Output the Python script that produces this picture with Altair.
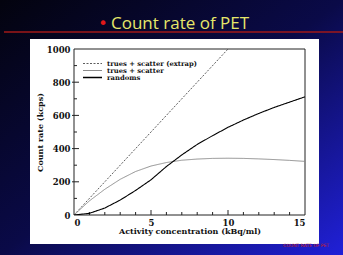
import altair as alt
import pandas as pd

# ---- data ----
series_names = ["trues + scatter (extrap)", "trues + scatter", "randoms"]
series_colors = ["#333333", "#8a8a8a", "#000000"]
series_dash = [[2, 1.5], [1, 0], [1, 0]]
series_width = [0.8, 1.1, 1.4]
x_extrap = [0, 10]
v_extrap = [0, 1000]
x_curve = list(range(0, 16))
v_trues = [0, 85, 155, 215, 262, 295, 316, 330, 337, 341, 342, 341, 338, 334, 329, 323]
v_randoms = [0, 10, 42, 90, 148, 212, 292, 362, 425, 478, 528, 572, 612, 648, 680, 712]
x_tick_labels = [0, 5, 10, 15]
y_tick_labels = [0, 200, 400, 600, 800, 1000]
x_minor = [1, 2, 3, 4, 6, 7, 8, 9, 11, 12, 13, 14]
x_major = [5, 10]
y_minor = [100, 300, 500, 700, 900]
y_major = [200, 400, 600, 800]
slide_title = "Count rate of PET"
x_title = "Activity concentration (kBq/ml)"
y_title = "Count rate (kcps)"
watermark = "COUNT RATE OF PET"

rows = []
for xx, vv in zip(x_extrap, v_extrap):
    rows.append({"series": series_names[0], "x": xx, "v": vv})
for xx, vv in zip(x_curve, v_trues):
    rows.append({"series": series_names[1], "x": xx, "v": vv})
for xx, vv in zip(x_curve, v_randoms):
    rows.append({"series": series_names[2], "x": xx, "v": vv})
df = pd.DataFrame(rows)

W, H = 231, 166
PL, PT = 74, 49
TW, TH = 343, 255

xs = alt.Scale(domain=[0, 15], nice=False)
ys = alt.Scale(domain=[0, 1000], nice=False)
serif = "DejaVu Serif"

x_axis = alt.Axis(
    values=x_tick_labels, title=x_title, tickSize=0, domain=False, grid=False, format="d",
    labelFont=serif, labelFontSize=8.5, labelFontWeight="bold", labelColor="#111",
    labelPadding=3, titleFont=serif, titleFontSize=8, titleFontWeight="bold",
    titleColor="#111", titlePadding=1, zindex=2)
y_axis = alt.Axis(
    values=y_tick_labels, title=y_title, tickSize=0, domain=False, grid=False, format="d",
    labelFont=serif, labelFontSize=8.5, labelFontWeight="bold", labelColor="#111",
    labelPadding=4, titleFont=serif, titleFontSize=8, titleFontWeight="bold",
    titleColor="#111", titlePadding=2, zindex=2)

one = alt.Data(values=[{}])

bg = alt.Chart(one).mark_rect(
    color=alt.LinearGradient(
        gradient="linear", x1=0, y1=0, x2=1, y2=1,
        stops=[alt.GradientStop(color="#03030e", offset=0),
               alt.GradientStop(color="#0a0a48", offset=0.5),
               alt.GradientStop(color="#2020d8", offset=1)])
).encode(x=alt.value(-PL), x2=alt.value(TW - PL), y=alt.value(-PT), y2=alt.value(TH - PT))

panel = alt.Chart(one).mark_rect(color="white").encode(
    x=alt.value(30 - PL), x2=alt.value(319 - PL), y=alt.value(39 - PT), y2=alt.value(244 - PT))

redline = alt.Chart(one).mark_rule(color="#a01818", strokeWidth=1.5).encode(
    x=alt.value(4 - PL), x2=alt.value(TW - PL), y=alt.value(32 - PT))

title_txt = alt.Chart(one).mark_text(
    text=slide_title, font="Open Sans", fontSize=17, color="#e6e66a",
    align="left", baseline="alphabetic").encode(x=alt.value(111 - PL), y=alt.value(29 - PT))

bullet = alt.Chart(one).mark_text(
    text="•", font="DejaVu Sans", fontSize=16, color="#e01818",
    align="center", baseline="middle").encode(x=alt.value(103 - PL), y=alt.value(24 - PT))

wm = alt.Chart(one).mark_text(
    text=watermark, font="DejaVu Sans", fontSize=4.5, color="#cc2020",
    align="left", baseline="middle").encode(x=alt.value(283 - PL), y=alt.value(246 - PT))

frame = alt.Chart(one).mark_rect(fill=None, stroke="#222", strokeWidth=1).encode(
    x=alt.value(0), x2=alt.value(W), y=alt.value(0), y2=alt.value(H))

# legend (drawn as its own small marks)
legend_layers = []
leg_y0, leg_dy = 63.5 - PT, 7
for i, (name, col, dash, sw) in enumerate(zip(series_names, series_colors, series_dash, series_width)):
    yy = leg_y0 + i * leg_dy
    legend_layers.append(
        alt.Chart(one).mark_rule(color=col, strokeDash=dash, strokeWidth=sw).encode(
            x=alt.value(83 - PL), x2=alt.value(102 - PL), y=alt.value(yy)))
    legend_layers.append(
        alt.Chart(one).mark_text(text=name, font=serif, fontSize=6.8, fontWeight="bold",
                                 color="#111", align="left", baseline="middle").encode(
            x=alt.value(107 - PL), y=alt.value(yy)))

lines = alt.Chart(df).mark_line(clip=True).encode(
    x=alt.X("x:Q", scale=xs, axis=x_axis),
    y=alt.Y("v:Q", scale=ys, axis=y_axis),
    color=alt.Color("series:N", scale=alt.Scale(domain=series_names, range=series_colors), legend=None),
    strokeDash=alt.StrokeDash("series:N", scale=alt.Scale(domain=series_names, range=series_dash), legend=None),
    strokeWidth=alt.StrokeWidth("series:N", scale=alt.Scale(domain=series_names, range=series_width), legend=None),
    order="x:Q",
)

xminor = alt.Chart(pd.DataFrame({"x": x_minor})).mark_rule(color="#222", strokeWidth=1).encode(
    x=alt.X("x:Q", scale=xs, axis=x_axis), y=alt.value(H), y2=alt.value(H - 3))
xmajor = alt.Chart(pd.DataFrame({"x": x_major})).mark_rule(color="#222", strokeWidth=1).encode(
    x=alt.X("x:Q", scale=xs, axis=x_axis), y=alt.value(H), y2=alt.value(H - 5))
yminor = alt.Chart(pd.DataFrame({"v": y_minor})).mark_rule(color="#222", strokeWidth=1).encode(
    y=alt.Y("v:Q", scale=ys, axis=y_axis), x=alt.value(0), x2=alt.value(3))
ymajor = alt.Chart(pd.DataFrame({"v": y_major})).mark_rule(color="#222", strokeWidth=1).encode(
    y=alt.Y("v:Q", scale=ys, axis=y_axis), x=alt.value(-2), x2=alt.value(5))

chart = alt.layer(
    bg, panel, redline, title_txt, bullet, wm, frame,
    xminor, xmajor, yminor, ymajor, *legend_layers, lines
).properties(
    width=W, height=H,
    autosize=alt.AutoSizeParams(type="none"),
    padding={"left": PL, "top": PT, "right": TW - PL - W, "bottom": TH - PT - H},
    background="#05051a",
).configure_view(stroke=None)

chart.save("out.html", embed_options={"renderer": "svg", "actions": False})
